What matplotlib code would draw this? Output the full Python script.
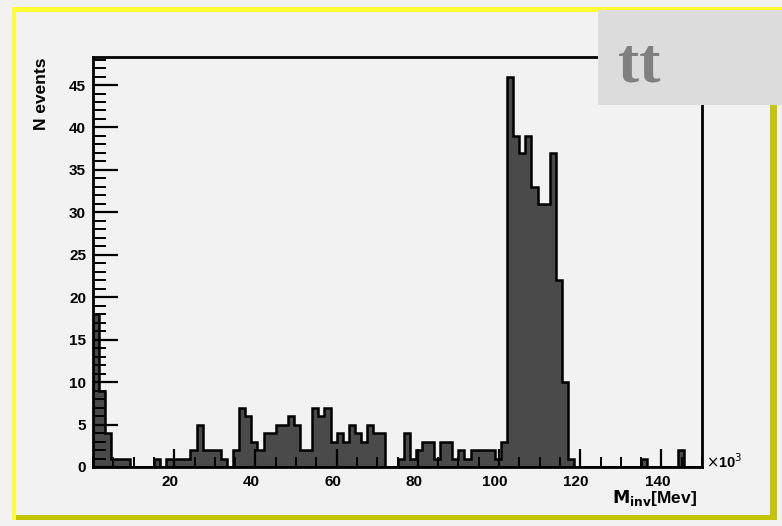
import numpy as np
import matplotlib
matplotlib.use("Agg")
import matplotlib.pyplot as plt
from matplotlib.patches import Rectangle
from matplotlib.ticker import MultipleLocator
from matplotlib.transforms import ScaledTranslation

# Invariant-mass histogram: 100 bins of 1.5 over [0, 150]
x_min, x_max, n_bins = 0.0, 150.0, 100
counts = [
    18, 9, 4, 1, 1, 1, 0, 0, 0, 0,
    1, 0, 1, 1, 1, 1, 2, 5, 2, 2,
    2, 1, 0, 2, 7, 6, 3, 2, 4, 4,
    5, 5, 6, 5, 2, 2, 7, 6, 7, 3,
    4, 3, 5, 4, 3, 5, 4, 4, 0, 0,
    1, 4, 1, 2, 3, 3, 1, 3, 3, 1,
    2, 1, 2, 2, 2, 2, 1, 3, 46, 39,
    37, 39, 33, 31, 31, 37, 22, 10, 1, 0,
    0, 0, 0, 0, 0, 0, 0, 0, 0, 0,
    1, 0, 0, 0, 0, 0, 2, 0, 0, 0,
]
x_major_ticks = [20, 40, 60, 80, 100, 120, 140]
y_major_ticks = [0, 5, 10, 15, 20, 25, 30, 35, 40, 45]
title_text = "tt"
x_label = r"$\mathbf{M_{inv}}$[Mev]"
y_label = "N events"

W, H = 782, 526
bg = "#f2f2f2"

def fx(px):
    return px / W

def fy(py):
    return 1 - py / H

fig = plt.figure(figsize=(W / 100, H / 100), dpi=100)
fig.patch.set_facecolor(bg)

# canvas frame with bevelled yellow border
fig.add_artist(Rectangle((fx(12), fy(520)), 765 / W, 5 / H, transform=fig.transFigure,
                         color="#c4c400", lw=0))
fig.add_artist(Rectangle((fx(770), fy(520)), 7 / W, 513 / H, transform=fig.transFigure,
                         color="#c4c400", lw=0))
fig.add_artist(Rectangle((fx(12), fy(12)), 770 / W, 5 / H, transform=fig.transFigure,
                         color="#ffff33", lw=0))
fig.add_artist(Rectangle((fx(12), fy(520)), 4 / W, 513 / H, transform=fig.transFigure,
                         color="#ffff33", lw=0))

ax = fig.add_axes([fx(93), fy(467), (702 - 93) / W, (467 - 57) / H])
ax.set_facecolor(bg)

edges = np.linspace(x_min, x_max, n_bins + 1)
centers = 0.5 * (edges[:-1] + edges[1:])
ax.hist(centers, bins=edges, weights=counts, histtype="stepfilled",
        facecolor="#4a4a4a", edgecolor="black", linewidth=1.8)

ax.set_xlim(x_min, x_max)
ax.set_ylim(0, max(counts) * 1.05)

for s in ax.spines.values():
    s.set_linewidth(2)
    s.set_color("black")

ax.set_xticks(x_major_ticks)
ax.set_yticks(y_major_ticks)
ax.xaxis.set_minor_locator(MultipleLocator(5))
ax.yaxis.set_minor_locator(MultipleLocator(1))
ax.tick_params(axis="y", which="major", direction="in", length=18, width=1.6,
               labelsize=11, pad=5)
ax.tick_params(axis="y", which="minor", direction="in", length=9, width=1.4)
ax.tick_params(axis="x", which="major", direction="in", length=13, width=1.6,
               labelsize=11, pad=6)
ax.tick_params(axis="x", which="minor", direction="in", length=7, width=1.4)
shift = ScaledTranslation(-4 / 100, 0, fig.dpi_scale_trans)
for lab in ax.get_xticklabels():
    lab.set_transform(lab.get_transform() + shift)
for lab in ax.get_xticklabels() + ax.get_yticklabels():
    lab.set_fontweight("bold")
    lab.set_family("Liberation Sans")

fig.text(fx(42), fy(94), y_label, rotation=90, ha="center", va="center",
         fontsize=12.5, fontweight="bold", family="Liberation Sans")
fig.text(fx(697), fy(503), x_label, ha="right", va="baseline",
         fontsize=12.5, fontweight="bold", family="Liberation Sans")
fig.text(fx(706), fy(468), r"$\times$10$^{3}$", ha="left", va="baseline",
         fontsize=10.5, fontweight="bold", family="Liberation Sans")

# label box in the upper-right corner
fig.add_artist(Rectangle((fx(598), fy(105)), (W - 598) / W, 95 / H,
                         transform=fig.transFigure, color="#dcdcdc", lw=0))
fig.text(fx(618), fy(82), title_text, ha="left", va="baseline", fontsize=46,
         fontweight="bold", family="Liberation Serif", color="#808080")

fig.savefig("out.png", dpi=100, facecolor=fig.get_facecolor())
